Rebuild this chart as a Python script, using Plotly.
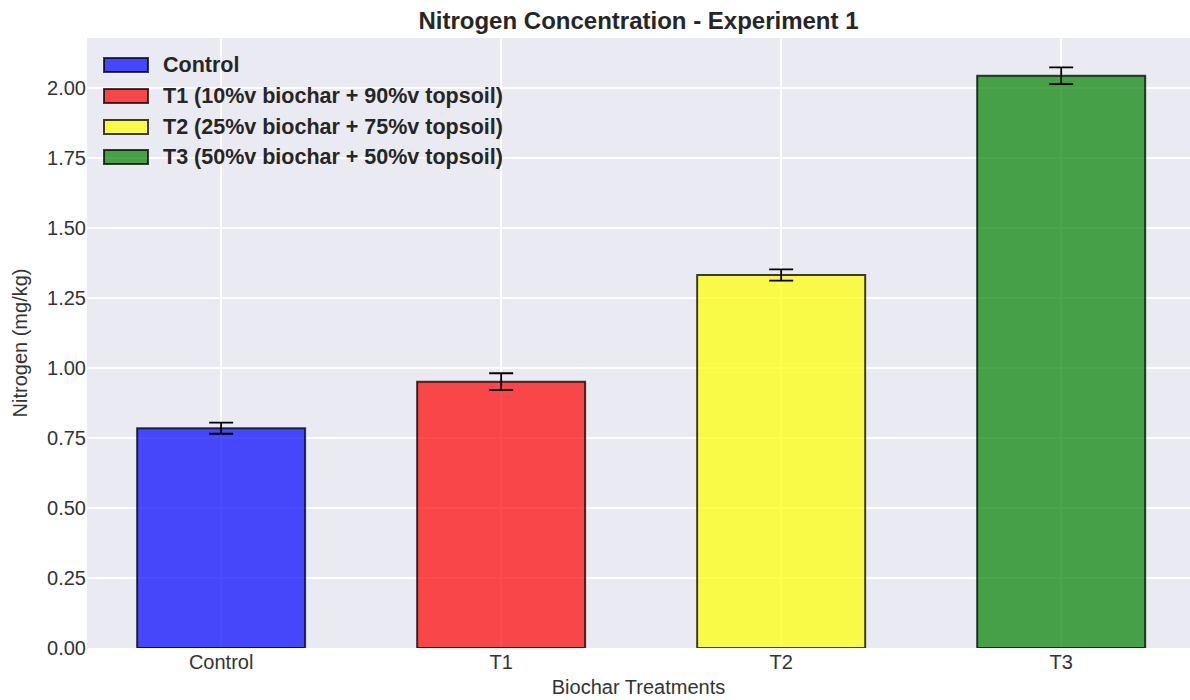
import plotly.graph_objects as go

categories = ["Control", "T1", "T2", "T3"]
legend_names = [
    "Control",
    "T1 (10%v biochar + 90%v topsoil)",
    "T2 (25%v biochar + 75%v topsoil)",
    "T3 (50%v biochar + 50%v topsoil)",
]
nitrogen = [0.785, 0.951, 1.332, 2.043]
errors = [0.02, 0.03, 0.02, 0.03]
fill_colors = [
    "rgba(0,0,255,0.7)",
    "rgba(255,0,0,0.7)",
    "rgba(255,255,0,0.7)",
    "rgba(0,128,0,0.7)",
]
edge_color = "rgba(0,0,0,0.75)"

fig = go.Figure()
for cat, name, val, err, col in zip(categories, legend_names, nitrogen, errors, fill_colors):
    fig.add_trace(go.Bar(
        x=[cat], y=[val], name=name, width=0.6, showlegend=False,
        marker=dict(color=col, line=dict(color=edge_color, width=2)),
        error_y=dict(type="data", array=[err], visible=True, color="black",
                     thickness=1.8, width=12),
    ))

# custom legend (matplotlib-style wide swatches)
plot_w, plot_h = 1103.0, 610.0
sw_x0, sw_x1, txt_x = (104 - 87) / plot_w, (148 - 87) / plot_w, (161 - 87) / plot_w
row_px = [65, 96, 127, 157]
half_h = 7 / plot_h
for name, col, rp in zip(legend_names, fill_colors, row_px):
    yc = (648 - rp) / plot_h
    fig.add_shape(type="rect", xref="paper", yref="paper",
                  x0=sw_x0, x1=sw_x1, y0=yc - half_h, y1=yc + half_h,
                  fillcolor=col, line=dict(color=edge_color, width=2))
    fig.add_annotation(xref="paper", yref="paper", x=txt_x, y=yc,
                       xanchor="left", yanchor="middle", showarrow=False,
                       text="<b>" + name + "</b>",
                       font=dict(size=21.5, color="#262626"))

fig.update_layout(
    width=1190, height=700,
    margin=dict(l=87, r=0, t=38, b=52),
    paper_bgcolor="white",
    plot_bgcolor="#EAEAF2",
    barmode="overlay",
    font=dict(family="Liberation Sans, Arial, sans-serif", size=20, color="#333333"),
    title=dict(text="<b>Nitrogen Concentration - Experiment 1</b>",
               x=0.5, xref="paper", xanchor="center",
               y=0.971, yref="container", yanchor="middle",
               font=dict(size=24, color="#262626")),
    showlegend=False,
)
fig.update_xaxes(
    range=[-0.479, 3.46], showgrid=True, gridcolor="white", gridwidth=1.5,
    showline=False, ticks="", zeroline=False,
    title=dict(text="Biochar Treatments", standoff=7, font=dict(size=20, color="#333333")),
    tickfont=dict(size=20, color="#333333"),
)
fig.update_yaxes(
    range=[0, 2.178], dtick=0.25, tick0=0, tickformat=".2f",
    showgrid=True, gridcolor="white", gridwidth=1.5, zeroline=False,
    showline=False, ticks="", ticklen=0,
    title=dict(text="Nitrogen (mg/kg)", standoff=14, font=dict(size=20, color="#333333")),
    tickfont=dict(size=20, color="#333333"),
)

fig.write_html("out.html")
